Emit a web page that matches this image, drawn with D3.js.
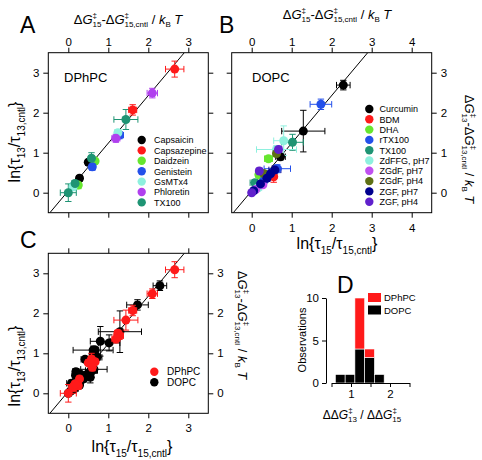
<!DOCTYPE html>
<html><head><meta charset="utf-8">
<script src="https://cdn.jsdelivr.net/npm/d3@7"></script>
<style>
body{margin:0;background:#fff}
svg{display:block}
text{font-family:"Liberation Sans",Arial,Helvetica,sans-serif;fill:#000}
</style>
</head><body>
<svg id="chart" width="482" height="460"></svg>
<script>
// ---------------- DATA ----------------
const dphpcCompounds = ["Capsaicin","Capsazepine","Daidzein","Genistein","GsMTx4","Phloretin","TX100"];
const dphpcColors    = ["#000000","#ff1a1a","#66e62e","#2450ea","#8ef0de","#b040ee","#1f9474"];
const dphpcGroup = [0,0,1,1,2,2,3,3,4,4,5,5,6,6,6,6];
const dphpcX     = [0.28,0.50,2.66,1.61,0.25,0.67,1.28,0.60,1.24,0.12,2.10,1.19,1.44,0.58,0.17,0.00];
const dphpcY     = [0.36,0.76,3.09,2.07,0.19,0.79,1.44,0.65,1.50,0.15,2.49,1.36,1.83,0.86,0.23,0.00];
const dphpcXErr  = [0.07,0.07,0.23,0.10,0.07,0.06,0.10,0.08,0.08,0.09,0.13,0.10,0.30,0.07,0.08,0.20];
const dphpcYErr  = [0.06,0.07,0.20,0.13,0.09,0.06,0.09,0.09,0.08,0.10,0.12,0.10,0.25,0.14,0.08,0.22];

const dopcCompounds = ["Curcumin","BDM","DHA","rTX100","TX100","ZdFFG, pH7","ZGdF, pH7","ZGdF, pH4","ZGF, pH7","ZGF, pH4"];
const dopcColors    = ["#000000","#ff1a1a","#66e62e","#2450ea","#1f9474","#8ef0de","#c050f0","#5e7014","#00008e","#6020cc"];
const dopcGroup = [0,0,0,0,1,1,2,2,3,3,3,4,4,5,5,5,6,6,7,7,8,8,8,8,8,9,9,9];
const dopcX     = [2.29,1.29,0.72,0.35,0.55,0.22,0.42,0.18,1.73,0.64,0.30,1.02,0.08,0.80,0.62,0.15,0.10,0.28,0.62,0.30,0.58,0.47,0.38,0.22,0.05,0.67,0.19,0.00];
const dopcY     = [2.69,1.54,0.90,0.42,0.40,0.22,0.85,0.45,2.21,0.60,0.30,1.26,0.25,1.30,1.08,0.12,0.08,0.20,0.98,0.48,0.57,0.47,0.36,0.22,0.05,1.08,0.54,0.00];
const dopcXErr  = [0.17,0.54,0.12,0.08,0.06,0.05,0.10,0.07,0.27,0.33,0.08,0.27,0.12,0.25,0.50,0.10,0.06,0.06,0.08,0.06,0.15,0.10,0.08,0.08,0.06,0.08,0.08,0.06];
const dopcYErr  = [0.12,0.52,0.08,0.07,0.14,0.06,0.07,0.07,0.13,0.10,0.08,0.20,0.08,0.37,0.10,0.08,0.06,0.06,0.08,0.06,0.10,0.08,0.08,0.07,0.06,0.08,0.08,0.06];

// fitted line (endpoints in data units)
const fitLineX = [-0.46, 2.90];
const fitLineY = [-0.50, 3.50];

// histogram of ddG13/ddG15
const histBinStart = [0.60,0.85,1.10,1.35,1.60];
const histBinWidth = 0.25;
const histDopc     = [1,1,4,3,1];
const histDphpc    = [0,0,6,1,0];

const ticksTau   = [0,1,2,3];
const ticksTauB  = [0,1,2,3,4];
const ticksHistX = [0.5,1,1.5,2,2.5];
const ticksHistY = [0,5,10];

// ---------------- DRAW ----------------
const svg = d3.select("#chart");
const FONT = "Liberation Sans, Arial, sans-serif";

function rich(t, parts){
  let cur = 0;
  parts.forEach(p=>{
    const ts = t.append("tspan").text(p.t);
    const off = p.o||0;
    if(off-cur!==0) ts.attr("dy", off-cur);
    cur = off;
    if(p.s) ts.attr("font-size", p.s);
    if(p.i) ts.attr("font-style","italic");
    if(p.dx) ts.attr("dx", p.dx);
  });
  return t;
}
const dgParts = (sub)=>[
  {t:"Δ"},{t:"G",i:1},{t:"‡",s:8,o:-6},{t:sub,s:8,o:3,dx:-4.5},
  {t:"-Δ",o:0},{t:"G",i:1},{t:"‡",s:8,o:-6},{t:sub+",cntl",s:8,o:3,dx:-4.5},
  {t:" / ",o:0},{t:"k",i:1},{t:"B",s:8,o:3},{t:" T",i:1,o:0}
];
const lnParts = (sub)=>[
  {t:"ln{τ"},{t:sub,s:10,o:5},{t:"/τ",o:0},{t:sub+",cntl",s:10,o:5},{t:"}",o:0}
];

function makePanel(cfg){
  const x = d3.scaleLinear().domain(cfg.xdom).range([cfg.x0,cfg.x1]);
  const y = d3.scaleLinear().domain([-0.5,3.5]).range([cfg.y1,cfg.y0]);
  const g = svg.append("g");
  const id = "clip"+cfg.name;
  svg.append("clipPath").attr("id",id).append("rect")
    .attr("x",cfg.x0).attr("y",cfg.y0).attr("width",cfg.x1-cfg.x0).attr("height",cfg.y1-cfg.y0);
  const mk = (axis, ticks, show, transform, pad)=>{
    const a = axis.tickValues(ticks).tickSize(5).tickSizeOuter(0).tickPadding(pad)
      .tickFormat(show ? d3.format("d") : "");
    const ag = g.append("g").attr("transform",transform).call(a);
    ag.select(".domain").remove();
    ag.selectAll("line").attr("stroke","#000");
    ag.selectAll("text").attr("font-size",11.5).attr("font-family",FONT).attr("fill","#000");
  };
  mk(d3.axisTop(x), cfg.xticks, cfg.top, `translate(0,${cfg.y0})`, 2);
  mk(d3.axisBottom(x), cfg.xticks, cfg.bottom, `translate(0,${cfg.y1})`, 6);
  mk(d3.axisLeft(y), ticksTau, cfg.left, `translate(${cfg.x0},0)`, 4);
  mk(d3.axisRight(y), ticksTau, cfg.right, `translate(${cfg.x1},0)`, 4);
  g.append("line").attr("clip-path",`url(#${id})`)
    .attr("x1",x(fitLineX[0])).attr("y1",y(fitLineY[0]))
    .attr("x2",x(fitLineX[1])).attr("y2",y(fitLineY[1]))
    .attr("stroke","#000").attr("stroke-width",1);
  cfg.series.forEach(s=>{
    const pts = s.X.map((v,i)=>({x:v,y:s.Y[i],xe:s.XE[i],ye:s.YE[i],c:s.color(i)}));
    const eg = g.append("g");
    const cap = 3.2;
    pts.forEach(p=>{
      const cx=x(p.x), cy=y(p.y);
      const ex0=x(p.x-p.xe), ex1=x(p.x+p.xe), ey0=y(p.y-p.ye), ey1=y(p.y+p.ye);
      const path = `M${ex0},${cy}H${ex1}M${ex0},${cy-cap}V${cy+cap}M${ex1},${cy-cap}V${cy+cap}`+
                   `M${cx},${ey0}V${ey1}M${cx-cap},${ey0}H${cx+cap}M${cx-cap},${ey1}H${cx+cap}`;
      eg.append("path").attr("d",path).attr("stroke",p.c).attr("stroke-width",1).attr("fill","none");
    });
    g.append("g").selectAll("circle").data(pts).join("circle")
      .attr("cx",d=>x(d.x)).attr("cy",d=>y(d.y)).attr("r",4.5).attr("fill",d=>d.c);
  });
  g.append("rect").attr("x",cfg.x0).attr("y",cfg.y0).attr("width",cfg.x1-cfg.x0).attr("height",cfg.y1-cfg.y0)
    .attr("fill","none").attr("stroke","#000").attr("stroke-width",1);
  return {x,y,g};
}

makePanel({name:"A",x0:48.3,x1:208.3,y0:52.7,y1:212.7,xdom:[-0.5,3.5],xticks:ticksTau,
  top:true,bottom:false,left:true,right:false,
  series:[{X:dphpcX,Y:dphpcY,XE:dphpcXErr,YE:dphpcYErr,color:i=>dphpcColors[dphpcGroup[i]]}]});
makePanel({name:"B",x0:231.7,x1:431.7,y0:52.7,y1:212.7,xdom:[-0.5,4.5],xticks:ticksTauB,
  top:true,bottom:true,left:false,right:true,
  series:[{X:dopcX,Y:dopcY,XE:dopcXErr,YE:dopcYErr,color:i=>dopcColors[dopcGroup[i]]}]});
makePanel({name:"C",x0:48.3,x1:208.3,y0:253.3,y1:413.3,xdom:[-0.5,3.5],xticks:ticksTau,
  top:false,bottom:true,left:true,right:true,
  series:[{X:dopcX,Y:dopcY,XE:dopcXErr,YE:dopcYErr,color:()=>"#000"},
          {X:dphpcX,Y:dphpcY,XE:dphpcXErr,YE:dphpcYErr,color:()=>"#ff1a1a"}]});

// Panel letters
[["A",20,33],["B",219,33],["C",20,248],["D",337,293]].forEach(([t,x,y])=>
  svg.append("text").attr("x",x).attr("y",y).attr("font-size",23).text(t));

// Titles
rich(svg.append("text").attr("x",128).attr("y",24).attr("text-anchor","middle").attr("font-size",13), dgParts("15"));
rich(svg.append("text").attr("x",337).attr("y",19).attr("text-anchor","middle").attr("font-size",13), dgParts("15"));
rich(svg.append("text").attr("transform","translate(465,149) rotate(90)").attr("text-anchor","middle").attr("font-size",13), dgParts("13"));
rich(svg.append("text").attr("transform","translate(238,325) rotate(90)").attr("text-anchor","middle").attr("font-size",13), dgParts("13"));
rich(svg.append("text").attr("transform","translate(20,142) rotate(-90)").attr("text-anchor","middle").attr("font-size",16), lnParts("13"));
rich(svg.append("text").attr("transform","translate(20,366) rotate(-90)").attr("text-anchor","middle").attr("font-size",16), lnParts("13"));
rich(svg.append("text").attr("x",337).attr("y",249).attr("text-anchor","middle").attr("font-size",16), lnParts("15"));
rich(svg.append("text").attr("x",132).attr("y",452).attr("text-anchor","middle").attr("font-size",16), lnParts("15"));

// in-panel lipid labels
svg.append("text").attr("x",64).attr("y",82).attr("font-size",13).text("DPhPC");
svg.append("text").attr("x",252).attr("y",82).attr("font-size",13).text("DOPC");

// Legends
function legend(names, colors, mx, tx, y0, dy, fs){
  const lg = svg.append("g");
  names.forEach((n,i)=>{
    lg.append("circle").attr("cx",mx).attr("cy",y0+i*dy).attr("r",4.2).attr("fill",colors[i]);
    lg.append("text").attr("x",tx).attr("y",y0+i*dy+3.3).attr("font-size",fs).text(n);
  });
}
legend(dphpcCompounds, dphpcColors, 141.7, 154, 140, 10.4, 9);
legend(dopcCompounds, dopcColors, 369.3, 379.5, 109, 10.3, 9);
legend(["DPhPC","DOPC"], ["#ff1a1a","#000"], 154.3, 167, 371.7, 10.6, 10);

// ---------------- Panel D histogram ----------------
const xh = d3.scaleLinear().domain([0.5,2.5]).range([331.5,409.5]);
const yh = d3.scaleLinear().domain([0,10]).range([383,298]);
const hg = svg.append("g");
histBinStart.forEach((b,i)=>{
  const xa = xh(b), xb = xh(b+histBinWidth);
  hg.append("rect").attr("x",xa).attr("width",xb-xa).attr("y",yh(histDopc[i])).attr("height",yh(0)-yh(histDopc[i]))
    .attr("fill","#000").attr("stroke","#fff").attr("stroke-width",0.6);
  if(histDphpc[i]>0){
    const top = histDopc[i]+histDphpc[i];
    hg.append("rect").attr("x",xa).attr("width",xb-xa).attr("y",yh(top)).attr("height",yh(histDopc[i])-yh(top))
      .attr("fill","#ff1a1a").attr("stroke","#fff").attr("stroke-width",0.6);
  }
});
const hx = hg.append("g").attr("transform","translate(0,383)")
  .call(d3.axisBottom(xh).tickValues(ticksHistX).tickSize(4).tickSizeOuter(0).tickPadding(3)
        .tickFormat(d=>Number.isInteger(d)?d:""));
const hy = hg.append("g").attr("transform","translate(326,0)")
  .call(d3.axisLeft(yh).tickValues(ticksHistY).tickSize(4).tickSizeOuter(0).tickPadding(3).tickFormat(d3.format("d")));
[hx,hy].forEach(a=>{
  a.selectAll("text").attr("font-size",11.5).attr("font-family",FONT).attr("fill","#000");
  a.selectAll("line,path").attr("stroke","#000");
});
svg.append("text").attr("transform","translate(306,340) rotate(-90)").attr("text-anchor","middle")
  .attr("font-size",11).text("Observations");
rich(svg.append("text").attr("x",362).attr("y",419).attr("text-anchor","middle").attr("font-size",12),
  [{t:"ΔΔ"},{t:"G",i:1},{t:"‡",s:8,o:-6},{t:"13",s:8,o:3,dx:-4.5},{t:" / ΔΔ",o:0},{t:"G",i:1},{t:"‡",s:8,o:-6},{t:"15",s:8,o:3,dx:-4.5}]);
[["DPhPC","#ff1a1a"],["DOPC","#000"]].forEach(([n,c],i)=>{
  svg.append("rect").attr("x",368).attr("y",293+i*12.5).attr("width",13).attr("height",9).attr("fill",c);
  svg.append("text").attr("x",384).attr("y",301+i*12.5).attr("font-size",9.5).text(n);
});
</script>
</body></html>
